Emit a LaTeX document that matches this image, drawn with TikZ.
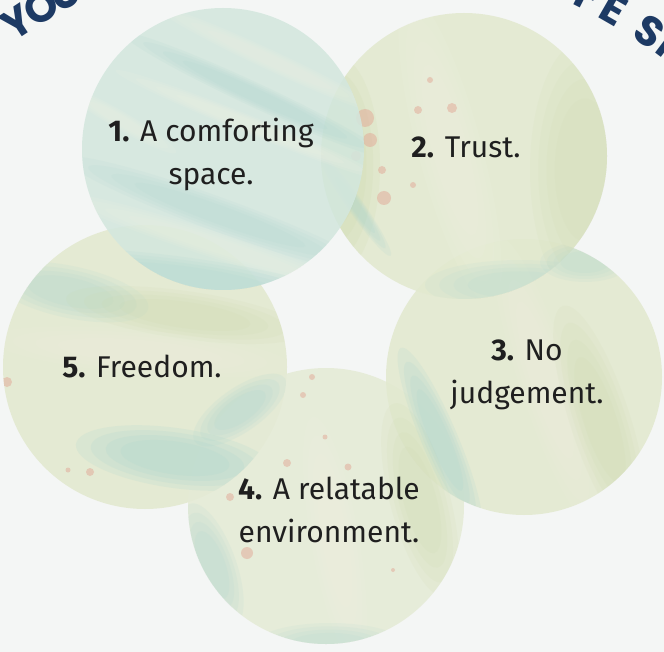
\documentclass[tikz,border=0pt]{standalone}
\usepackage{fontspec}
\setmainfont{Fira Sans}
\newfontfamily\titlefont{Poppins}
\definecolor{paper}{HTML}{F4F6F5}
\definecolor{ink}{HTML}{1F1F1F}
\definecolor{navy}{HTML}{1D3A64}
\definecolor{mintbase}{HTML}{D3E7DE}
\definecolor{sagebase}{HTML}{E2E9CF}
\definecolor{palebase}{HTML}{E5EBD6}
\definecolor{tealw}{HTML}{A9D4CF}
\definecolor{sagew}{HTML}{C9D6A6}
\definecolor{creamw}{HTML}{F1F2E2}
\definecolor{pinkw}{HTML}{E2A896}
% soft watercolour patch: colour, x, y, half-length, half-width, angle, layer opacity
\newcommand\softwash[7]{%
  \foreach \s in {1,0.85,0.7,0.55}{%
    \fill[#1, opacity=#7, rotate around={#6:(#2,#3)}] (#2,#3) ellipse ({#4*\s} and {#5*\s});}}
\begin{document}
\begin{tikzpicture}[x=1pt,y=-1pt,
  bubble/.style={circle, inner sep=0pt, fill opacity=0.88},
  label/.style={font=\fontsize{30}{43}\selectfont, text=ink, align=center, anchor=base, inner sep=0pt},
  titlechar/.style={font=\titlefont\bfseries\fontsize{42}{42}\selectfont, text=navy, anchor=center, inner sep=0pt},
  dot/.style={fill=pinkw, opacity=0.5}]

% paper
\fill[paper] (0,0) rectangle (664,652);
\useasboundingbox (0,0) rectangle (664,652);

% curved heading, partly cut by the page edge
\begin{scope}
  \clip (0,0) rectangle (664,652);
  \foreach \ch/\ang/\rad [count=\i] in {Y/123.4/572, O/120.6/572, U/117.8/572, F/63.1/566, E/60.1/566, S/55.9/566, P/53.0/566}
    \node[titlechar, rotate=\ang-90] (head\i) at ({332+\rad*cos(\ang)}, {500-\rad*sin(\ang)}) {\ch};
\end{scope}

% five circles
\node[bubble, minimum size=284pt, fill=sagebase] (c5) at (145,367) {};
\node[bubble, minimum size=276pt, fill=palebase] (c4) at (326,506) {};
\node[bubble, minimum size=276pt, fill=sagebase] (c3) at (524,377) {};
\node[bubble, minimum size=286pt, fill=sagebase] (c2) at (464,156) {};

% circle 5 washes
\begin{scope}
  \clip (c5.center) circle[radius=142];
  \softwash{tealw}{70}{292}{80}{26}{-12}{0.13}
  \softwash{sagew}{185}{315}{120}{24}{-8}{0.1}
  \softwash{creamw}{140}{352}{150}{22}{-5}{0.12}
  \softwash{tealw}{175}{458}{100}{30}{-8}{0.18}
  \softwash{tealw}{240}{410}{55}{22}{35}{0.14}
  \fill[dot] (7,382) circle[radius=5];
  \fill[dot] (90,472) circle[radius=4];
  \fill[dot] (68,470) circle[radius=2.5];
\end{scope}

% circle 4 washes
\begin{scope}
  \clip (c4.center) circle[radius=138];
  \softwash{tealw}{212}{565}{65}{24}{-70}{0.13}
  \softwash{creamw}{335}{540}{125}{24}{-80}{0.14}
  \softwash{sagew}{420}{500}{100}{30}{-75}{0.1}
  \softwash{tealw}{330}{645}{75}{22}{0}{0.11}
  \fill[dot] (312,377) circle[radius=3];
  \fill[dot] (303,395) circle[radius=3];
  \fill[dot] (325,437) circle[radius=2.5];
  \fill[dot] (287,463) circle[radius=4];
  \fill[dot] (348,467) circle[radius=3.5];
  \fill[dot] (230,497) circle[radius=4];
  \fill[dot] (247,553) circle[radius=6];
  \fill[dot] (393,570) circle[radius=2];
\end{scope}

% circle 3 washes
\begin{scope}
  \clip (c3.center) circle[radius=138];
  \softwash{tealw}{440}{440}{100}{18}{-67}{0.17}
  \softwash{creamw}{545}{380}{150}{26}{-72}{0.12}
  \softwash{sagew}{600}{420}{120}{30}{-72}{0.1}
  \softwash{tealw}{585}{262}{45}{20}{0}{0.1}
\end{scope}

% circle 2 washes
\begin{scope}
  \clip (c2.center) circle[radius=143];
  \softwash{sagew}{335}{165}{45}{110}{0}{0.14}
  \softwash{creamw}{450}{150}{160}{32}{-75}{0.14}
  \softwash{sagew}{585}{170}{55}{130}{0}{0.09}
  \softwash{tealw}{355}{205}{62}{8}{-55}{0.14}
  \softwash{tealw}{520}{285}{95}{25}{0}{0.1}
  \fill[dot] (365,118) circle[radius=9];
  \fill[dot] (370,140) circle[radius=7];
  \fill[dot] (356,156) circle[radius=5];
  \fill[dot] (384,198) circle[radius=7];
  \fill[dot] (382,170) circle[radius=4];
  \fill[dot] (418,110) circle[radius=4];
  \fill[dot] (452,108) circle[radius=5];
  \fill[dot] (430,80) circle[radius=3];
  \fill[dot] (413,185) circle[radius=3];
\end{scope}

% circle 1, drawn last
\node[bubble, minimum size=282pt, fill=mintbase] (c1) at (223,149) {};
\begin{scope}
  \clip (c1.center) circle[radius=141];
  \softwash{creamw}{270}{60}{125}{10}{-25}{0.12}
  \softwash{tealw}{255}{95}{145}{12}{-25}{0.12}
  \softwash{creamw}{250}{125}{145}{9}{-22}{0.15}
  \softwash{tealw}{220}{215}{165}{17}{-20}{0.1}
  \softwash{creamw}{215}{245}{165}{13}{-18}{0.13}
  \softwash{tealw}{190}{278}{155}{20}{-8}{0.12}
  \softwash{creamw}{120}{120}{65}{9}{-30}{0.13}
\end{scope}

% labels
\node[label] (t1) at (211,185) {\textbf{1.} A comforting\\space.};
\node[label] (t2) at (466,158) {\textbf{2.} Trust.};
\node[label] (t3) at (527,403) {\textbf{3.} No\\judgement.};
\node[label] (t4) at (329,542) {\textbf{4.} A relatable\\environment.};
\node[label] (t5) at (142,377) {\textbf{5.} Freedom.};
\end{tikzpicture}
\end{document}
